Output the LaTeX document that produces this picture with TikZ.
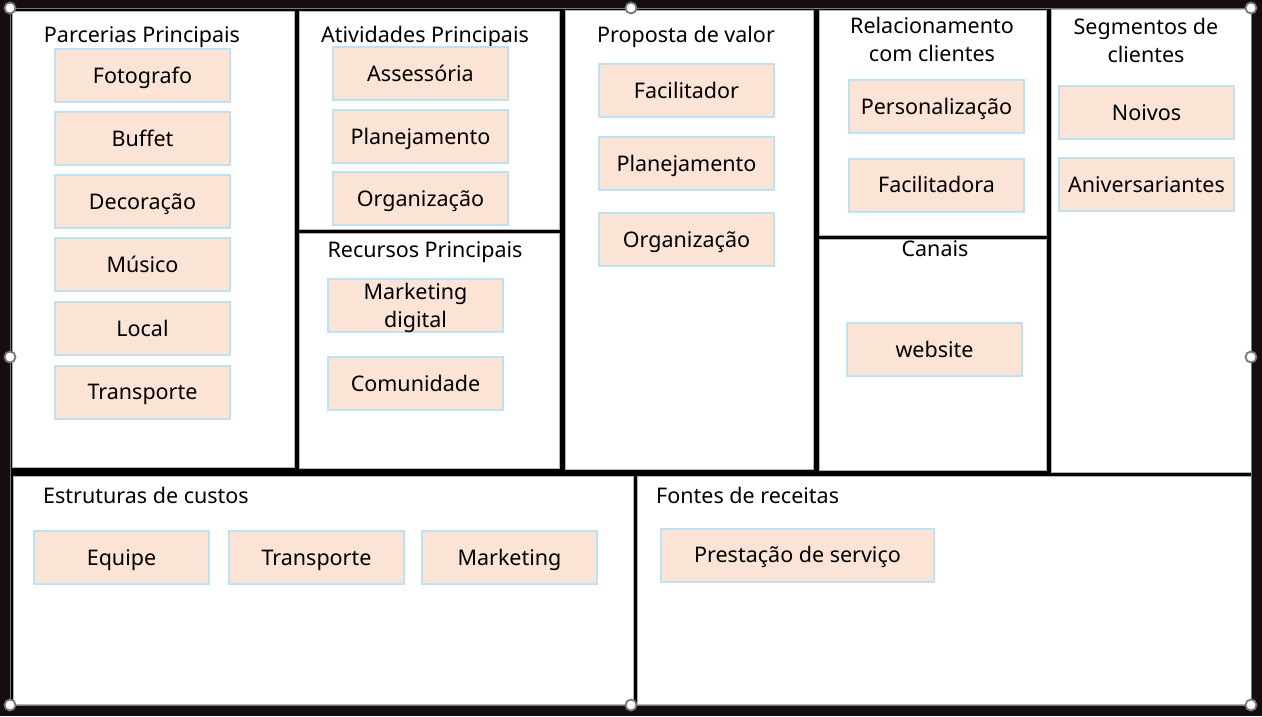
\documentclass[tikz,border=0pt]{standalone}
\usepackage{fontspec}
\setmainfont{Noto Sans}
\definecolor{darkbg}{RGB}{22,13,16}
\definecolor{pinkfill}{RGB}{251,228,213}
\definecolor{bluebord}{RGB}{190,226,242}
\definecolor{handlegray}{RGB}{120,120,120}
\begin{document}
\begin{tikzpicture}[x=1pt,y=-1pt,
  panel/.style={fill=white,draw=gray!60,line width=0.8pt},
  item/.style={fill=pinkfill,draw=bluebord,line width=2pt,minimum width=175pt,minimum height=53pt,inner sep=0pt,text height=15.4pt,text depth=0pt,font=\fontsize{21.5}{28}\selectfont},
  ttl/.style={anchor=base,inner sep=0pt,font=\fontsize{21.5}{28}\selectfont},
  handle/.style={circle,fill=white,draw=handlegray,line width=1.8pt,minimum size=11pt,inner sep=0pt}]
\useasboundingbox (0,0) rectangle (1262,716);
\fill[darkbg] (0,0) rectangle (1262,716);
\fill[black] (10,8) rectangle (1251,705);
% panels
\path[panel] (12,11) rectangle (294,467);
\path[panel] (299,11) rectangle (559,229);
\path[panel] (299,233) rectangle (559,468);
\path[panel] (565,10) rectangle (813,469);
\path[panel] (819,10) rectangle (1046,235);
\path[panel] (819,239) rectangle (1046,470);
\path[panel] (1051,9) rectangle (1251,472);
\path[panel] (13,476) rectangle (633,704);
\path[panel] (637,476) rectangle (1251,704);
% selection frame
\draw[handlegray,line width=1pt] (10,8) rectangle (1251,705);
% titles
\node[ttl] (t1) at (142,42) {Parcerias Principais};
\node[ttl] (t2) at (425,42) {Atividades Principais};
\node[ttl] (t3) at (425,257) {Recursos Principais};
\node[ttl] (t4) at (686,42) {Proposta de valor};
\node[ttl] (t5a) at (932,33) {Relacionamento};
\node[ttl] (t5b) at (932,61) {com clientes};
\node[ttl] (t6) at (935,256) {Canais};
\node[ttl] (t7a) at (1146,34) {Segmentos de};
\node[ttl] (t7b) at (1146,62) {clientes};
\node[ttl,anchor=base west] (t8) at (43,503) {Estruturas de custos};
\node[ttl,anchor=base west] (t9) at (656,503) {Fontes de receitas};
% Parcerias
\node[item] (p1) at (142.5,75.5) {Fotografo};
\node[item] (p2) at (142.5,138.5) {Buffet};
\node[item] (p3) at (142.5,201.5) {Decoração};
\node[item] (p4) at (142.5,264.5) {Músico};
\node[item] (p5) at (142.5,328.5) {Local};
\node[item] (p6) at (142.5,392) {Transporte};
% Atividades
\node[item] (a1) at (420.5,73.5) {Assessória};
\node[item] (a2) at (420.5,136.5) {Planejamento};
\node[item] (a3) at (420.5,198.5) {Organização};
% Recursos
\node[item,minimum height=53pt] (r1) at (415.5,305) {};
\node[inner sep=0pt,align=center,font=\fontsize{21.5}{28}\selectfont] (r1t) at (415.5,307.5) {Marketing\\digital};
\node[item] (r2) at (415.5,383.5) {Comunidade};
% Proposta
\node[item] (v1) at (686.5,90.5) {Facilitador};
\node[item] (v2) at (686.5,163.5) {Planejamento};
\node[item] (v3) at (686.5,239.5) {Organização};
% Relacionamento
\node[item] (c1) at (936.5,106.5) {Personalização};
\node[item] (c2) at (936.5,185) {Facilitadora};
% Canais
\node[item] (k1) at (934.5,349.5) {website};
% Segmentos
\node[item] (s1) at (1146.5,112.5) {Noivos};
\node[item] (s2) at (1146.5,184.5) {Aniversariantes};
% Custos
\node[item] (e1) at (121.5,557.5) {Equipe};
\node[item] (e2) at (316.5,557.5) {Transporte};
\node[item] (e3) at (509.5,557.5) {Marketing};
% Receitas
\node[item,minimum width=273pt] (f1) at (797.5,555) {Prestação de serviço};
% handles
\node[handle] (h1) at (10,8) {};
\node[handle] (h2) at (631,8) {};
\node[handle] (h3) at (1251,8) {};
\node[handle] (h4) at (10,357) {};
\node[handle] (h5) at (1251,357) {};
\node[handle] (h6) at (10,705) {};
\node[handle] (h7) at (631,705) {};
\node[handle] (h8) at (1251,705) {};
\end{tikzpicture}
\end{document}
